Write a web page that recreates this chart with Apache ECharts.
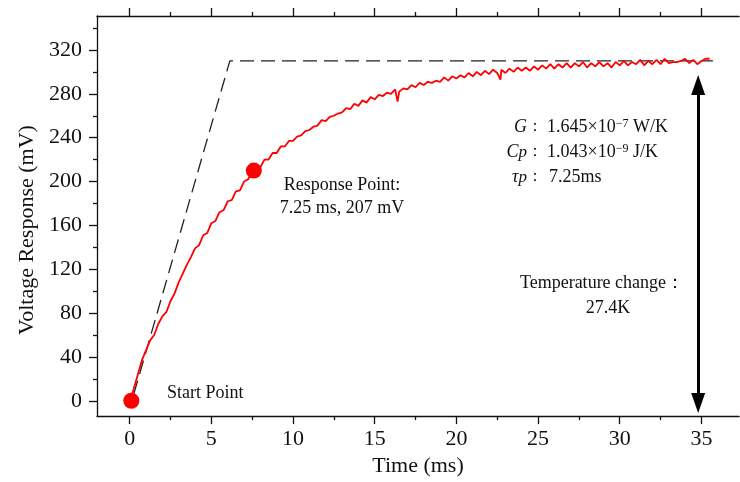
<!DOCTYPE html>
<html><head><meta charset="utf-8">
<script src="https://cdn.jsdelivr.net/npm/echarts@6/dist/echarts.min.js"></script>
<style>html,body{margin:0;padding:0;background:#fff}#c{width:740px;height:482px}</style>
</head><body><div id="c"></div>
<script>
const timeMs = [
0.15, 0.25, 0.5, 0.75, 1.0, 1.25, 1.5, 1.75, 2.0, 2.25,
2.5, 2.75, 3.0, 3.25, 3.5, 3.75, 4.0, 4.25, 4.5, 4.75,
5.0, 5.25, 5.5, 5.75, 6.0, 6.25, 6.5, 6.75, 7.0, 7.25,
7.5, 7.75, 8.0, 8.25, 8.5, 8.75, 9.0, 9.25, 9.5, 9.75,
10.0, 10.25, 10.5, 10.75, 11.0, 11.25, 11.5, 11.75, 12.0, 12.25,
12.5, 12.75, 13.0, 13.25, 13.5, 13.75, 14.0, 14.25, 14.5, 14.75,
15.0, 15.25, 15.5, 15.75, 16.0, 16.25, 16.4, 16.5, 16.75, 17.0,
17.25, 17.5, 17.75, 18.0, 18.25, 18.5, 18.75, 19.0, 19.25, 19.5,
19.75, 20.0, 20.25, 20.5, 20.75, 21.0, 21.25, 21.5, 21.75, 22.0,
22.25, 22.5, 22.7, 22.75, 23.0, 23.25, 23.5, 23.75, 24.0, 24.25,
24.5, 24.75, 25.0, 25.25, 25.5, 25.75, 26.0, 26.25, 26.5, 26.75,
27.0, 27.25, 27.5, 27.75, 28.0, 28.25, 28.5, 28.75, 29.0, 29.25,
29.5, 29.75, 30.0, 30.25, 30.5, 30.75, 31.0, 31.25, 31.5, 31.75,
32.0, 32.25, 32.5, 32.75, 33.0, 33.25, 33.5, 33.75, 34.0, 34.25,
34.5, 34.75, 35.0, 35.25, 35.5
];
const voltageMv = [
6, 11, 24, 37, 46, 55, 60, 70, 77, 81,
91, 98, 108, 116, 124, 131, 139, 142, 151, 153,
162, 164, 172, 174, 182, 183, 191, 192, 200, 202,
208, 211, 213, 220, 220, 226, 226, 232, 232, 237,
237, 241, 242, 246, 247, 250, 251, 256, 255, 259,
260, 262, 263, 267, 266, 271, 269, 274, 272, 277,
275, 279, 278, 281, 280, 284, 273, 282, 285, 284,
288, 286, 290, 288, 291, 290, 292, 291, 295, 292,
296, 294, 297, 295, 299, 296, 300, 297, 301, 298,
302, 299, 293, 302, 299, 303, 300, 304, 301, 304,
301, 305, 302, 306, 303, 307, 303, 307, 304, 308,
304, 308, 305, 309, 304, 308, 305, 309, 305, 308,
304, 309, 306, 310, 306, 309, 307, 311, 306, 310,
307, 311, 307, 312, 308, 309, 309, 310, 312, 308,
311, 307, 310, 312, 312
];
const markerTime = [0.1, 7.6];
const markerVoltage = [0, 210];
const guideTime = [0.25, 6.13, 35.7];
const guideVoltage = [6, 310, 310];
const arrowTime = [34.8, 34.8];
const arrowVoltage = [-2, 288];
const xMajorTicks = [0, 5, 10, 15, 20, 25, 30, 35];
const xMinorTicks = [2.5, 7.5, 12.5, 17.5, 22.5, 27.5, 32.5];
const yMajorTicks = [0, 40, 80, 120, 160, 200, 240, 280, 320];
const yMinorTicks = [20, 60, 100, 140, 180, 220, 260, 300, 340];

const FONT = '"Liberation Serif", "Times New Roman", serif';
const X_MIN = -2, X_MAX = 37.3, Y_MIN = -14, Y_MAX = 351;

const chart = echarts.init(document.getElementById('c'), null, {renderer: 'canvas'});

function xAxisDef(pos, ticks, len, major) {
  return {
    type: 'value', position: pos, min: X_MIN, max: X_MAX, gridIndex: 0,
    name: (major && pos === 'bottom') ? 'Time (ms)' : '',
    nameLocation: 'middle', nameGap: 31,
    nameTextStyle: {fontFamily: FONT, fontSize: 22, color: '#111'},
    splitLine: {show: false},
    axisLine: {show: major, onZero: false, lineStyle: {color: '#111', width: 1.3}},
    axisTick: {show: true, inside: false, length: len, customValues: ticks, lineStyle: {color: '#111', width: 1.3}},
    axisLabel: {show: major && pos === 'bottom', customValues: ticks, margin: 12, fontFamily: FONT, fontSize: 22, color: '#111'}
  };
}
function yAxisDef(ticks, len, major) {
  return {
    type: 'value', position: 'left', min: Y_MIN, max: Y_MAX, gridIndex: 0,
    splitLine: {show: false},
    axisLine: {show: major, onZero: false, lineStyle: {color: '#111', width: 1.3}},
    axisTick: {show: true, inside: false, length: len, customValues: ticks, lineStyle: {color: '#111', width: 1.3}},
    axisLabel: {show: major, customValues: ticks, margin: 15, fontFamily: FONT, fontSize: 22, color: '#111'}
  };
}

const curve = timeMs.map((t, i) => [t, voltageMv[i]]);
const markers = markerTime.map((t, i) => [t, markerVoltage[i]]);
const guide = guideTime.map((t, i) => [t, guideVoltage[i]]);

chart.setOption({
  animation: false,
  backgroundColor: '#fff',
  grid: {left: 97, right: 1, top: 16, bottom: 62},
  xAxis: [
    xAxisDef('bottom', xMajorTicks, 8, true),
    xAxisDef('bottom', xMinorTicks, 4, false),
    xAxisDef('top', xMajorTicks, 8, true),
    xAxisDef('top', xMinorTicks, 4, false)
  ],
  yAxis: [
    yAxisDef(yMajorTicks, 8, true),
    yAxisDef(yMinorTicks, 4, false)
  ],
  series: [
    {
      type: 'line', data: guide, showSymbol: false, symbol: 'none', z: 2,
      lineStyle: {color: '#222', width: 1.3, type: [14, 7]}
    },
    {
      type: 'line', data: curve, showSymbol: false, symbol: 'none', z: 3,
      lineStyle: {color: '#ff0000', width: 1.8}
    },
    {
      type: 'scatter', data: markers, symbol: 'circle', symbolSize: 16, z: 4,
      itemStyle: {color: '#ff0000', opacity: 1}
    },
    {
      type: 'line', data: [], z: 5,
      markLine: {
        silent: true, symbol: ['triangle', 'triangle'], symbolSize: [14, 20],
        label: {show: false},
        lineStyle: {color: '#000', width: 3, type: 'solid'},
        data: [[{coord: [arrowTime[0], arrowVoltage[0]]}, {coord: [arrowTime[1], arrowVoltage[1]]}]]
      }
    }
  ],
  graphic: [
    {type: 'text', x: 27, y: 230, rotation: Math.PI / 2, style: {text: 'Voltage Response (mV)', font: '22px ' + FONT, fill: '#111', align: 'center', verticalAlign: 'middle'}},
    {type: 'text', x: 167, y: 393, style: {text: 'Start Point', font: '18px ' + FONT, fill: '#111', align: 'left', verticalAlign: 'middle'}},
    {type: 'text', x: 342, y: 185, style: {text: 'Response Point:', font: '18px ' + FONT, fill: '#111', align: 'center', verticalAlign: 'middle'}},
    {type: 'text', x: 342, y: 208, style: {text: '7.25 ms, 207 mV', font: '18px ' + FONT, fill: '#111', align: 'center', verticalAlign: 'middle'}},
    {type: 'text', x: 543, y: 127, style: {text: '{i|G}{c|：}', align: 'right', verticalAlign: 'middle',
      rich: {i: {fontFamily: FONT, fontSize: 18, fontStyle: 'italic', fill: '#111'}, c: {fontFamily: FONT, fontSize: 16, fill: '#111'}}}},
    {type: 'text', x: 543, y: 152, style: {text: '{i|C}{p|p}{c|：}', align: 'right', verticalAlign: 'middle',
      rich: {i: {fontFamily: FONT, fontSize: 18, fontStyle: 'italic', fill: '#111'}, p: {fontFamily: FONT, fontSize: 17, fontStyle: 'italic', fill: '#111', verticalAlign: 'bottom'}, c: {fontFamily: FONT, fontSize: 16, fill: '#111'}}}},
    {type: 'text', x: 543, y: 177, style: {text: '{i|τ}{p|p}{c|：}', align: 'right', verticalAlign: 'middle',
      rich: {i: {fontFamily: FONT, fontSize: 18, fontStyle: 'italic', fill: '#111'}, p: {fontFamily: FONT, fontSize: 17, fontStyle: 'italic', fill: '#111', verticalAlign: 'bottom'}, c: {fontFamily: FONT, fontSize: 16, fill: '#111'}}}},
    {type: 'text', x: 547, y: 127, style: {text: '{n|1.645×10}{s|−7}{n| W/K}', align: 'left', verticalAlign: 'middle',
      rich: {n: {fontFamily: FONT, fontSize: 18, fill: '#111'}, s: {fontFamily: FONT, fontSize: 12, fill: '#111', verticalAlign: 'top'}}}},
    {type: 'text', x: 547, y: 152, style: {text: '{n|1.043×10}{s|−9}{n| J/K}', align: 'left', verticalAlign: 'middle',
      rich: {n: {fontFamily: FONT, fontSize: 18, fill: '#111'}, s: {fontFamily: FONT, fontSize: 12, fill: '#111', verticalAlign: 'top'}}}},
    {type: 'text', x: 549, y: 177, style: {text: '7.25ms', font: '18px ' + FONT, fill: '#111', align: 'left', verticalAlign: 'middle'}},
    {type: 'text', x: 602, y: 283, style: {text: 'Temperature change：', font: '18px ' + FONT, fill: '#111', align: 'center', verticalAlign: 'middle'}},
    {type: 'text', x: 608, y: 308, style: {text: '27.4K', font: '18px ' + FONT, fill: '#111', align: 'center', verticalAlign: 'middle'}}
  ]
});
</script>
</body></html>
